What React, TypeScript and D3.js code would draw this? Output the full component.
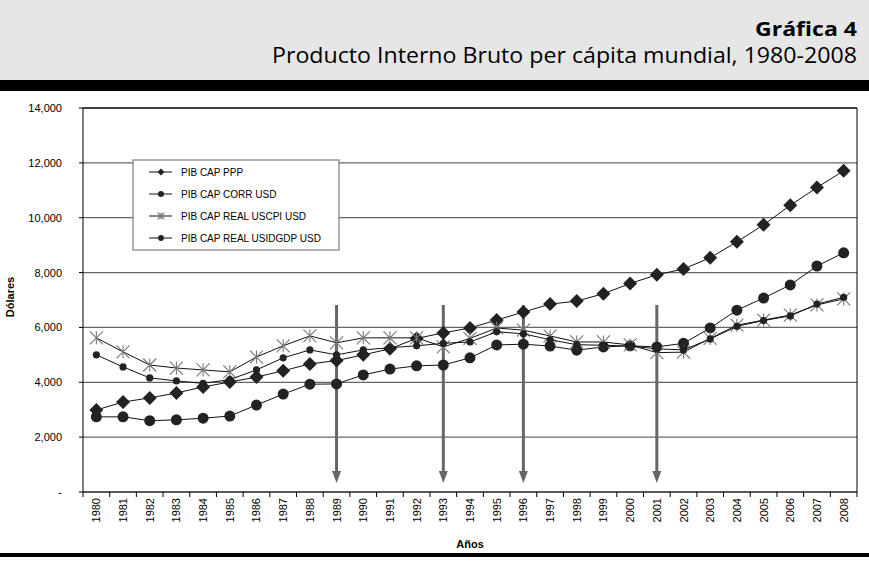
import React from "react";
import * as d3 from "d3";

const years = d3.range(1980, 2009).map(String);
const yTicks = [0, 2000, 4000, 6000, 8000, 10000, 12000, 14000];

const pibPPP = [2990, 3280, 3430, 3610, 3830, 4010, 4190, 4420, 4670, 4790, 5000, 5220, 5600, 5800, 5980, 6270, 6560, 6850, 6960, 7230, 7600, 7920, 8130, 8540, 9120, 9740, 10450, 11100, 11710];
const pibCorr = [2740, 2740, 2600, 2630, 2690, 2770, 3170, 3570, 3930, 3940, 4270, 4480, 4600, 4630, 4890, 5360, 5390, 5320, 5170, 5290, 5330, 5290, 5420, 5980, 6630, 7070, 7550, 8240, 8720];
const pibCpi = [5620, 5110, 4630, 4520, 4450, 4380, 4920, 5330, 5690, 5440, 5620, 5620, 5620, 5290, 5600, 5980, 5900, 5690, 5470, 5470, 5360, 5080, 5100, 5600, 6080, 6270, 6450, 6820, 7040];
const pibDef = [5000, 4560, 4160, 4050, 3960, 4100, 4450, 4890, 5180, 5000, 5180, 5260, 5330, 5420, 5470, 5840, 5770, 5550, 5370, 5350, 5320, 5220, 5180, 5580, 6040, 6250, 6420, 6850, 7100];
const arrowYears = ["1989", "1993", "1996", "2001"];

const legendNames = ["PIB CAP PPP", "PIB CAP CORR USD", "PIB CAP REAL USCPI USD", "PIB CAP REAL USIDGDP USD"];

const W = 869, H = 564;
const left = 83, right = 857, top = 108, bottom = 492;

const x = d3.scaleBand<string>().domain(years).range([left, right]);
const y = d3.scaleLinear().domain([0, 14000]).range([bottom, top]);
const cx = (yr: string) => (x(yr) as number) + x.bandwidth() / 2;

const line = d3.line<number>()
  .x((_, i) => cx(years[i]))
  .y((d) => y(d));

function Marker({ kind, px, py, s = 1 }: { kind: string; px: number; py: number; s?: number }) {
  if (kind === "diamond") {
    const r = 7 * s;
    return <path d={`M${px},${py - r}L${px + r},${py}L${px},${py + r}L${px - r},${py}Z`} fill="#222" />;
  }
  if (kind === "bigdot") return <circle cx={px} cy={py} r={5.5 * s} fill="#222" />;
  if (kind === "smalldot") return <circle cx={px} cy={py} r={3.6 * s} fill="#222" />;
  const r = 6.5 * s;
  return (
    <path
      d={`M${px},${py - r}L${px},${py + r}M${px - r},${py - r}L${px + r},${py + r}M${px - r},${py + r}L${px + r},${py - r}`}
      stroke="#777" strokeWidth={1.1} fill="none" />
  );
}

const series = [
  { name: legendNames[0], data: pibPPP, kind: "diamond" },
  { name: legendNames[1], data: pibCorr, kind: "bigdot" },
  { name: legendNames[2], data: pibCpi, kind: "star" },
  { name: legendNames[3], data: pibDef, kind: "smalldot" },
];

export default function App() {
  const chartFont = "'Liberation Sans', Arial, sans-serif";
  const headFont = "'Open Sans', 'DejaVu Sans', sans-serif";
  return (
    <svg width={W} height={H} style={{ position: "absolute", left: 0, top: 0, background: "#fff" }}>
      {/* header */}
      <rect x={0} y={0} width={W} height={80} fill="#e6e6e6" />
      <rect x={0} y={80} width={W} height={11} fill="#000" />
      <text x={857} y={36} textAnchor="end" fontFamily={headFont} fontWeight="bold" fontSize={20}
        textLength={102} lengthAdjust="spacingAndGlyphs">Gráfica 4</text>
      <text x={857} y={63} textAnchor="end" fontFamily={headFont} fontSize={22}
        textLength={585} lengthAdjust="spacingAndGlyphs">Producto Interno Bruto per cápita mundial, 1980-2008</text>

      {/* grid */}
      {yTicks.map((t) => (
        <g key={t}>
          <line x1={left} x2={right} y1={y(t)} y2={y(t)} stroke={t === 14000 ? "#000" : "#666"} strokeWidth={t === 14000 ? 1.5 : 1.2} />
          <line x1={left - 4} x2={left} y1={y(t)} y2={y(t)} stroke="#000" />
          <text x={62} y={y(t) + 4} textAnchor="end" fontFamily={chartFont} fontSize={11}>
            {t === 0 ? "-" : d3.format(",")(t)}
          </text>
        </g>
      ))}
      <line x1={left} x2={left} y1={top} y2={bottom} stroke="#000" />
      <line x1={right} x2={right} y1={top} y2={bottom} stroke="#000" />
      <line x1={left} x2={right} y1={bottom} y2={bottom} stroke="#000" />
      {years.map((yr) => (
        <line key={"t" + yr} x1={(x(yr) as number)} x2={(x(yr) as number)} y1={bottom} y2={bottom + 5} stroke="#000" />
      ))}
      <line x1={right} x2={right} y1={bottom} y2={bottom + 5} stroke="#000" />
      {years.map((yr) => (
        <text key={"l" + yr} transform={`translate(${cx(yr) + 4},${498}) rotate(-90)`} textAnchor="end"
          fontFamily={chartFont} fontSize={11}>{yr}</text>
      ))}
      <text x={470} y={548} textAnchor="middle" fontFamily={chartFont} fontWeight="bold" fontSize={11}>Años</text>
      <text transform={`translate(14,297) rotate(-90)`} textAnchor="middle" fontFamily={chartFont} fontWeight="bold" fontSize={11}>Dólares</text>

      {/* arrows */}
      {arrowYears.map((yr) => (
        <g key={"a" + yr}>
          <line x1={cx(yr)} x2={cx(yr)} y1={305} y2={472} stroke="#666" strokeWidth={3} />
          <path d={`M${cx(yr) - 4.5},${471}L${cx(yr) + 4.5},${471}L${cx(yr)},${483}Z`} fill="#666" />
        </g>
      ))}

      {/* series */}
      {series.map((s) => (
        <g key={s.name}>
          <path d={line(s.data) as string} fill="none" stroke="#111" strokeWidth={1} />
          {s.data.map((v, i) => (
            <Marker key={i} kind={s.kind} px={cx(years[i])} py={y(v)} />
          ))}
        </g>
      ))}

      {/* legend */}
      <rect x={133} y={160} width={206} height={90} fill="#fff" stroke="#666" />
      {series.map((s, i) => {
        const ly = 172 + i * 22;
        return (
          <g key={"lg" + i}>
            <line x1={149} x2={172} y1={ly} y2={ly} stroke="#111" />
            <Marker kind={s.kind} px={161} py={ly} s={s.kind === "bigdot" ? 0.55 : s.kind === "smalldot" ? 0.8 : 0.5} />
            <text x={181} y={ly + 4} fontFamily={chartFont} fontSize={10}>{s.name}</text>
          </g>
        );
      })}

      {/* bottom rule */}
      <rect x={0} y={553} width={W} height={4} fill="#000" />
    </svg>
  );
}
